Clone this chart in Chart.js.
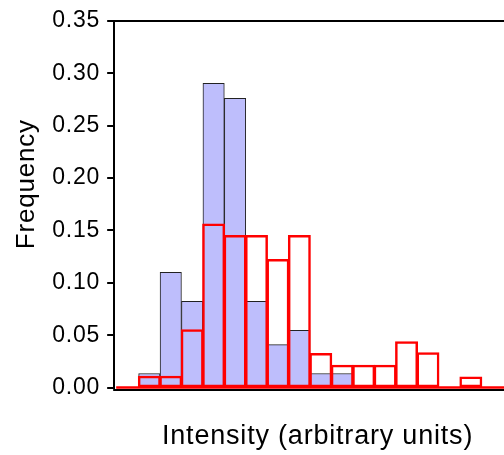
<!DOCTYPE html>
<html lang="en">
<head>
    <meta charset="UTF-8">
    <title>Intensity histogram</title>
    <script src="https://cdn.jsdelivr.net/npm/chart.js"></script>
    <style>
        html, body { margin: 0; padding: 0; overflow: hidden; background: #fff; }
    </style>
</head>
<body>
    <canvas id="myChart" width="523" height="455" style="width:523px;height:455px"></canvas>

    <script>
        // bin index along the intensity axis (arbitrary units, no tick labels)
        const bins = [0, 1, 2, 3, 4, 5, 6, 7, 8, 9, 10, 11, 12, 13, 14, 15, 16, 17];

        // filled (blue) histogram
        const blueFreq = [0, 0.0134, 0.110, 0.0823, 0.2906, 0.2763, 0.0823, 0.041, 0.0547, 0.0134, 0.0134, 0, 0, 0, 0, 0, 0, 0];

        // outlined (red) histogram
        const redFreq = [0, 0.0106, 0.0106, 0.055, 0.156, 0.145, 0.145, 0.122, 0.145, 0.0324, 0.021, 0.021, 0.021, 0.0436, 0.033, 0, 0.0098, 0];

        const yTicks = [0, 0.05, 0.10, 0.15, 0.20, 0.25, 0.30, 0.35];

        const FONT = 'Arial, "Liberation Sans", sans-serif';

        // slightly wider text, like the original
        const spacing = {
            id: 'spacing',
            beforeUpdate(chart) { chart.ctx.letterSpacing = '0.8px'; },
            beforeDraw(chart) { chart.ctx.letterSpacing = '0.8px'; }
        };

        // black axis line just under the zero line, red zero line on top of the bars
        const baselines = {
            id: 'baselines',
            beforeDatasetsDraw(chart) {
                const {ctx, chartArea, scales} = chart;
                const y0 = scales.y.getPixelForValue(0);
                ctx.save();
                ctx.strokeStyle = '#000';
                ctx.lineWidth = 2;
                ctx.beginPath();
                ctx.moveTo(chartArea.left - 1, y0 + 2.5);
                ctx.lineTo(chartArea.right, y0 + 2.5);
                ctx.stroke();
                ctx.restore();
            },
            afterDatasetsDraw(chart) {
                const {ctx, chartArea, scales} = chart;
                const y0 = scales.y.getPixelForValue(0);
                ctx.save();
                ctx.strokeStyle = '#ff0000';
                ctx.lineWidth = 2.5;
                ctx.beginPath();
                ctx.moveTo(scales.x.getPixelForValue(bins[0] - 0.5) - 1, y0);
                ctx.lineTo(chartArea.right, y0);
                ctx.stroke();
                ctx.restore();
            }
        };

        const ctx = document.getElementById('myChart').getContext('2d');
        const myChart = new Chart(ctx, {
            type: 'bar',
            data: {
                datasets: [{
                    label: 'red',
                    data: bins.map((b, i) => ({x: b, y: redFreq[i]})),
                    backgroundColor: 'rgba(0,0,0,0)',
                    borderColor: '#ff0000',
                    borderWidth: 1,
                    inflateAmount: 0.75,
                    borderSkipped: false,
                    grouped: false,
                    barPercentage: 1,
                    categoryPercentage: 1,
                    order: 0
                }, {
                    label: 'blue',
                    data: bins.map((b, i) => ({x: b, y: blueFreq[i]})),
                    backgroundColor: 'rgb(190,190,252)',
                    borderColor: '#222',
                    borderWidth: 1,
                    inflateAmount: 0.3,
                    borderSkipped: false,
                    grouped: false,
                    barPercentage: 1,
                    categoryPercentage: 1,
                    order: 1
                }]
            },
            options: {
                responsive: false,
                animation: false,
                layout: { padding: { top: 21, left: 7, right: 2, bottom: 0 } },
                plugins: {
                    legend: { display: false },
                    tooltip: { enabled: false }
                },
                scales: {
                    x: {
                        type: 'linear',
                        offset: false,
                        min: -0.64,
                        max: 18.34,
                        afterBuildTicks: axis => { axis.ticks = bins.map(v => ({value: v})); },
                        grid: { display: false, drawTicks: false },
                        border: { display: false },
                        ticks: { display: false },
                        title: {
                            display: true,
                            text: 'Intensity (arbitrary units)',
                            color: '#000',
                            font: { family: FONT, size: 27 },
                            padding: { top: 33, bottom: 2 }
                        }
                    },
                    xTop: {
                        type: 'linear',
                        position: 'top',
                        min: -0.64,
                        max: 18.34,
                        grid: { display: false, drawTicks: false },
                        border: { display: true, color: '#000', width: 2 },
                        ticks: { display: false }
                    },
                    y: {
                        min: 0,
                        max: 0.35,
                        afterBuildTicks: axis => { axis.ticks = yTicks.map(v => ({value: v})); },
                        border: { display: true, color: '#000', width: 2 },
                        grid: {
                            drawOnChartArea: false,
                            drawTicks: true,
                            tickLength: 7,
                            color: '#000',
                            lineWidth: 2
                        },
                        ticks: {
                            padding: 7,
                            color: '#000',
                            font: { family: FONT, size: 23 },
                            callback: v => v.toFixed(2)
                        },
                        title: {
                            display: true,
                            // leading spaces lift the word a little above the axis middle
                            text: '     Frequency',
                            color: '#000',
                            font: { family: FONT, size: 26 },
                            padding: { top: 4, bottom: 3 }
                        }
                    }
                }
            },
            plugins: [spacing, baselines]
        });
    </script>
</body>
</html>
